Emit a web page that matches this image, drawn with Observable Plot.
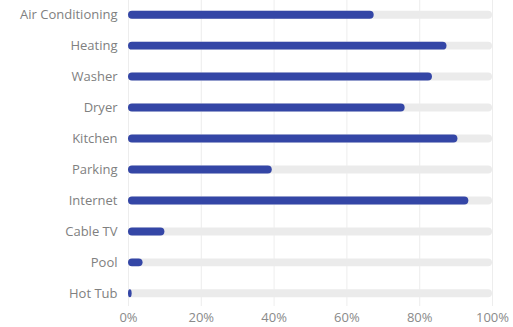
<!DOCTYPE html>
<html>
<head>
<meta charset="utf-8">
<script src="https://cdn.jsdelivr.net/npm/d3@7"></script>
<script src="https://cdn.jsdelivr.net/npm/@observablehq/plot@0.6"></script>
<style>
  html, body { margin: 0; padding: 0; background: #fff; }
  svg { display: block; }
</style>
</head>
<body>
<div id="chart"></div>
<script>
const categories = ["Air Conditioning", "Heating", "Washer", "Dryer", "Kitchen", "Parking", "Internet", "Cable TV", "Pool", "Hot Tub"];
const values = [67.5, 87.5, 83.5, 76, 90.5, 39.5, 93.5, 10, 4, 1];
const xTicks = [0, 20, 40, 60, 80, 100];

const data = categories.map((c, i) => ({category: c, value: values[i], full: 100}));

const chart = Plot.plot({
  width: 513,
  height: 327,
  marginLeft: 128,
  marginRight: 21,
  marginTop: 0,
  marginBottom: 21,
  style: {fontFamily: "'Open Sans', sans-serif", fontSize: "13px", color: "#808080", background: "#fff"},
  x: {domain: [0, 100], ticks: xTicks, tickFormat: d => d + "%", tickSize: 0, tickPadding: 6, label: null},
  y: {domain: categories, range: [-0.8, 308.8], padding: 0, round: false, tickSize: 0, tickPadding: 11, label: null},
  marks: [
    Plot.gridX(xTicks, {stroke: "#e6e6e6", strokeOpacity: 0.7}),
    Plot.barX(data, {y: "category", x1: 0, x2: "full", fill: "#ebebeb", rx: 4, insetTop: 11.5, insetBottom: 11.5}),
    Plot.barX(data, {y: "category", x1: 0, x2: "value", fill: "#3446a6", rx: 4, insetTop: 11.5, insetBottom: 11.5}),
    Plot.axisX({ticks: xTicks, tickFormat: d => d + "%", tickSize: 0, tickPadding: 6, fill: "#8a8a8a", label: null}),
    Plot.axisY({tickSize: 0, tickPadding: 11, fill: "#808080", label: null})
  ]
});
document.getElementById("chart").appendChild(chart);
</script>
</body>
</html>
